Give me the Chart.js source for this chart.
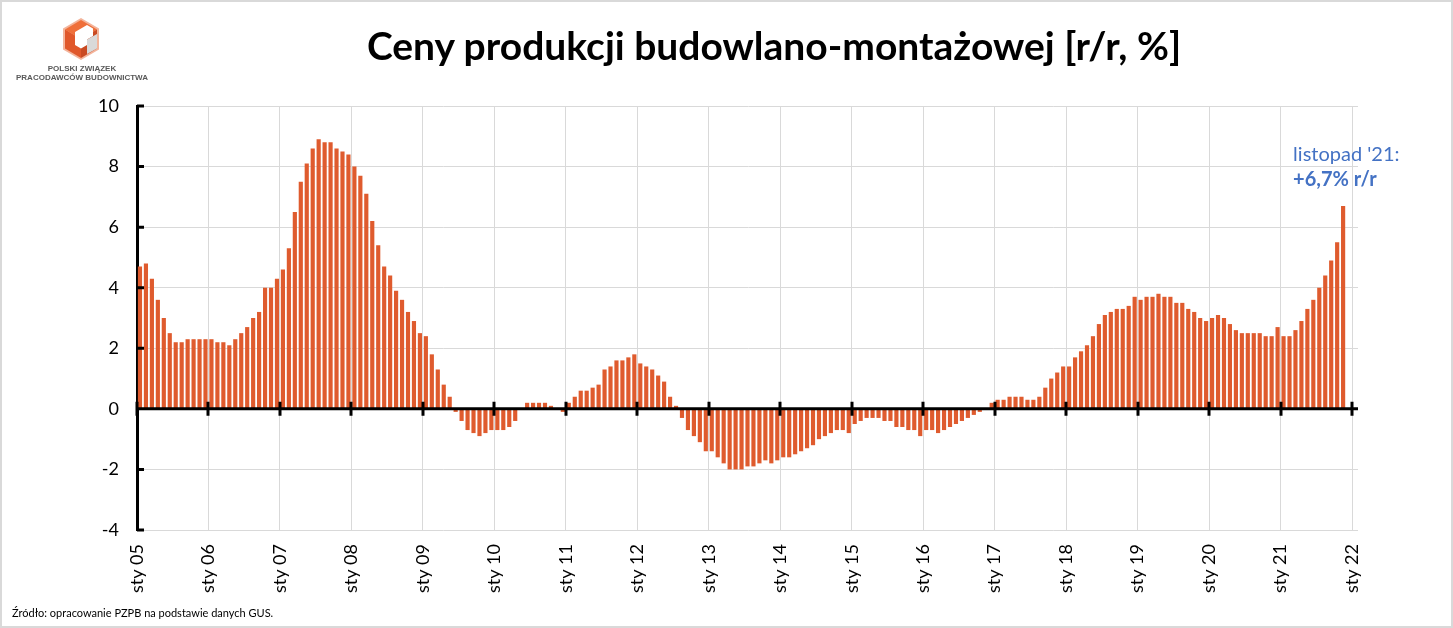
<!DOCTYPE html>
<html lang="pl">
<head>
<meta charset="utf-8">
<title>Ceny produkcji budowlano-montażowej</title>
<script src="https://cdn.jsdelivr.net/npm/chart.js@4.4.1/dist/chart.umd.min.js"></script>
<style>
  html, body { margin: 0; padding: 0; background: #fff; }
  body { position: relative; width: 1453px; height: 628px; overflow: hidden; font-family: Lato, "Open Sans", sans-serif; }
  #cvs_wykres { position: absolute; left: 0; top: 0; }
  #ramka { position: absolute; left: 0; top: 0; width: 1453px; height: 628px; box-sizing: border-box; border: 2px solid #d9d9d9; pointer-events: none; }
  #tytul { position: absolute; left: 774px; top: 21px; transform: translateX(-50%); white-space: nowrap; font-weight: bold; font-size: 39px; line-height: 48px; color: #000; }
  #logo { position: absolute; left: 0; top: 0; }
  .logo_tekst { position: absolute; left: 2px; width: 160px; text-align: center; font-family: "Liberation Sans", Arial, sans-serif; font-weight: bold; font-size: 8px; line-height: 9px; color: #595959; }
  #zrodlo { position: absolute; left: 12px; top: 606px; font-size: 11px; line-height: 14px; color: #000; }
</style>
</head>
<body>
<canvas id="cvs_wykres" width="1453" height="628"></canvas>

<svg id="logo" width="170" height="64" viewBox="0 0 170 64">
  <polygon points="81,18 99,28.5 99,49.5 81,60 63,49.5 63,28.5" fill="#f3b49b" />
  <polygon points="81,20 97,29.5 81,39 65,29.5" fill="#ef6f3a" />
  <polygon points="65,29.5 81,39 81,58 65,48.5" fill="#e0582b" />
  <polygon points="81,39 97,29.5 97,48.5 81,58" fill="#c94a22" />
  <polygon points="75,32 87,25 93,28.5 93,36 87,39.5 87,45 81,48.5 75,45" fill="#ffffff" />
  <polygon points="87,39.5 97,34 97,48.5 87,54" fill="#d9d9d9" />
</svg>
<div class="logo_tekst" style="top: 64px;">POLSKI ZWIĄZEK</div>
<div class="logo_tekst" style="top: 73px;">PRACODAWCÓW BUDOWNICTWA</div>

<div id="tytul">Ceny produkcji budowlano-montażowej [r/r, %]</div>
<div id="zrodlo">Źródło: opracowanie PZPB na podstawie danych GUS.</div>
<div id="ramka"></div>

<script>
// dynamika cen produkcji budowlano-montazowej, r/r w %, dane miesieczne
const r2005 = [4.7, 4.8, 4.3, 3.6, 3.0, 2.5, 2.2, 2.2, 2.3, 2.3, 2.3, 2.3];
const r2006 = [2.3, 2.2, 2.2, 2.1, 2.3, 2.5, 2.7, 3.0, 3.2, 4.0, 4.0, 4.3];
const r2007 = [4.6, 5.3, 6.5, 7.5, 8.1, 8.6, 8.9, 8.8, 8.8, 8.6, 8.5, 8.4];
const r2008 = [8.0, 7.7, 7.1, 6.2, 5.4, 4.7, 4.4, 3.9, 3.6, 3.2, 2.9, 2.5];
const r2009 = [2.4, 1.8, 1.3, 0.8, 0.4, -0.1, -0.4, -0.7, -0.8, -0.9, -0.8, -0.7];
const r2010 = [-0.7, -0.7, -0.6, -0.4, 0.0, 0.2, 0.2, 0.2, 0.2, 0.1, 0.0, -0.1];
const r2011 = [0.2, 0.4, 0.6, 0.6, 0.7, 0.8, 1.3, 1.4, 1.6, 1.6, 1.7, 1.8];
const r2012 = [1.5, 1.4, 1.3, 1.1, 0.9, 0.4, 0.1, -0.3, -0.7, -0.9, -1.1, -1.4];
const r2013 = [-1.4, -1.6, -1.8, -2.0, -2.0, -2.0, -1.9, -1.9, -1.8, -1.7, -1.8, -1.7];
const r2014 = [-1.6, -1.6, -1.5, -1.4, -1.3, -1.2, -1.0, -0.9, -0.8, -0.7, -0.7, -0.8];
const r2015 = [-0.5, -0.4, -0.3, -0.3, -0.3, -0.4, -0.4, -0.6, -0.6, -0.7, -0.7, -0.9];
const r2016 = [-0.7, -0.7, -0.8, -0.7, -0.6, -0.5, -0.4, -0.3, -0.2, -0.1, 0.0, 0.2];
const r2017 = [0.3, 0.3, 0.4, 0.4, 0.4, 0.3, 0.3, 0.4, 0.7, 1.0, 1.2, 1.4];
const r2018 = [1.4, 1.7, 1.9, 2.1, 2.4, 2.8, 3.1, 3.2, 3.3, 3.3, 3.4, 3.7];
const r2019 = [3.6, 3.7, 3.7, 3.8, 3.7, 3.7, 3.5, 3.5, 3.3, 3.2, 3.0, 2.9];
const r2020 = [3.0, 3.1, 3.0, 2.8, 2.6, 2.5, 2.5, 2.5, 2.5, 2.4, 2.4, 2.7];
const r2021 = [2.4, 2.4, 2.6, 2.9, 3.3, 3.6, 4.0, 4.4, 4.9, 5.5, 6.7]; // do listopada

// etykiety osi X (styczen kazdego roku) i zakres osi Y
const etykietyOsi = ["sty 05", "sty 06", "sty 07", "sty 08", "sty 09", "sty 10", "sty 11", "sty 12", "sty 13",
  "sty 14", "sty 15", "sty 16", "sty 17", "sty 18", "sty 19", "sty 20", "sty 21", "sty 22"];
const zakresY = [-4, 10];
const krokY = 2;
const opisTekst = ["listopad '21:", "+6,7% r/r"];

const wartosci = [].concat(r2005, r2006, r2007, r2008, r2009, r2010, r2011, r2012, r2013,
  r2014, r2015, r2016, r2017, r2018, r2019, r2020, r2021);
// kazdy miesiac to jedna jednostka na osi, slupek w srodku miesiaca
const punkty = wartosci.map((v, i) => ({ x: i + 0.5, y: v }));
const liczbaMiesiecy = (etykietyOsi.length - 1) * 12 + 1;

Chart.defaults.font.family = "Lato, 'Open Sans', sans-serif";

// os pozioma w zerze z kreskami lat + kreski na osi Y
const osZero = {
  id: "osZero",
  afterDatasetsDraw(chart) {
    const { ctx, chartArea, scales } = chart;
    const y0 = scales.y.getPixelForValue(0);
    ctx.save();
    ctx.strokeStyle = "#000";
    ctx.lineWidth = 3;
    ctx.beginPath();
    ctx.moveTo(chartArea.left, y0);
    ctx.lineTo(chartArea.right, y0);
    scales.x.ticks.forEach((t) => {
      const px = Math.round(scales.x.getPixelForValue(t.value));
      ctx.moveTo(px, y0 - 7);
      ctx.lineTo(px, y0 + 7);
    });
    scales.y.ticks.forEach((t) => {
      const py = scales.y.getPixelForValue(t.value);
      ctx.moveTo(chartArea.left, py);
      ctx.lineTo(chartArea.left + 7, py);
    });
    ctx.stroke();
    ctx.restore();
  },
};

// opis ostatniej wartosci
const opis = {
  id: "opis",
  afterDraw(chart) {
    const { ctx, scales } = chart;
    const ostatni = punkty[punkty.length - 1];
    const px = scales.x.getPixelForValue(ostatni.x) - 50;
    const py = scales.y.getPixelForValue(ostatni.y);
    ctx.save();
    ctx.fillStyle = "#4472c4";
    ctx.textAlign = "left";
    ctx.textBaseline = "alphabetic";
    ctx.font = "20px Lato, 'Open Sans', sans-serif";
    ctx.fillText(opisTekst[0], px, py - 45);
    ctx.font = "bold 20px Lato, 'Open Sans', sans-serif";
    ctx.fillText(opisTekst[1], px, py - 20);
    ctx.restore();
  },
};

new Chart(document.getElementById("cvs_wykres"), {
  type: "bar",
  data: {
    datasets: [
      {
        label: "r/r",
        data: punkty,
        backgroundColor: "#df5b2e",
        borderWidth: 0,
        categoryPercentage: 0.7,
        barPercentage: 1,
      },
    ],
  },
  options: {
    responsive: false,
    animation: false,
    layout: { padding: { top: 106, right: 95, bottom: 0, left: 0 } },
    plugins: {
      legend: { display: false },
      tooltip: { enabled: false },
    },
    scales: {
      x: {
        type: "linear",
        offset: false,
        min: 0,
        max: liczbaMiesiecy,
        afterBuildTicks: (skala) => {
          skala.ticks = etykietyOsi.map((t, i) => ({ value: i * 12 }));
        },
        afterFit: (skala) => {
          skala.height = 98;
        },
        grid: { color: "#d9d9d9", drawTicks: false, offset: false },
        border: { display: false },
        ticks: {
          autoSkip: false,
          minRotation: 90,
          maxRotation: 90,
          padding: 14,
          color: "#000",
          font: { size: 18 },
          callback: (v, i) => etykietyOsi[i],
        },
      },
      y: {
        min: zakresY[0],
        max: zakresY[1],
        afterFit: (skala) => {
          skala.width = 137;
        },
        grid: { color: "#d9d9d9", drawTicks: false },
        border: { display: true, color: "#000", width: 3 },
        ticks: { stepSize: krokY, padding: 18, color: "#000", font: { size: 18 } },
      },
    },
  },
  plugins: [osZero, opis],
});
</script>
</body>
</html>
